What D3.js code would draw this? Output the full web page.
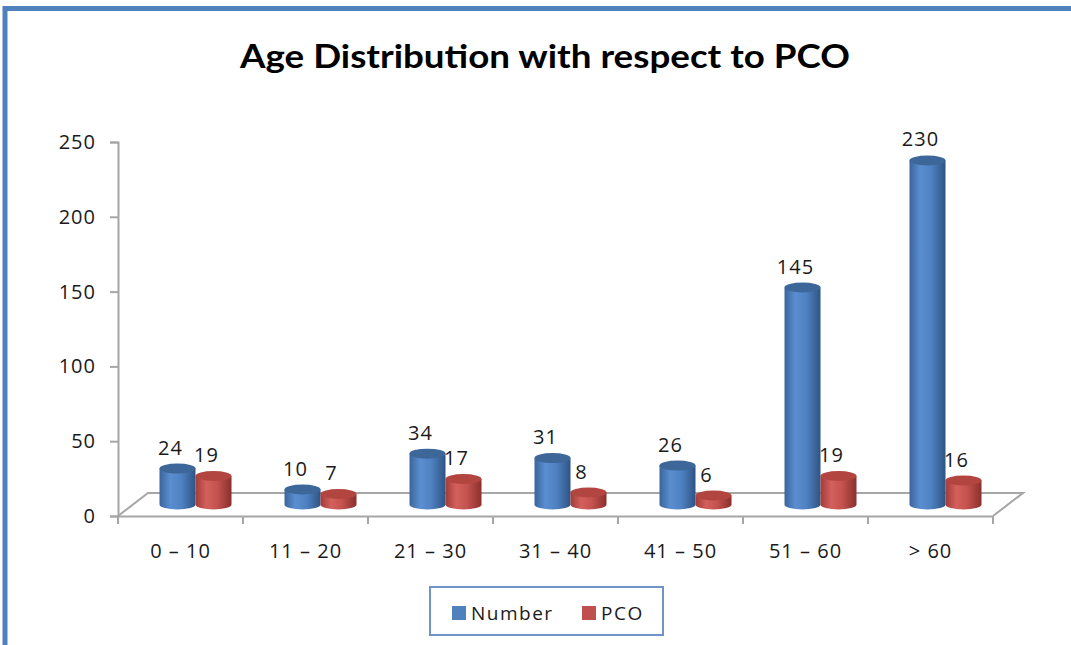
<!DOCTYPE html>
<html>
<head>
<meta charset="utf-8">
<script src="https://cdn.jsdelivr.net/npm/d3@7"></script>
<style>
  body { margin: 0; background: #fff; }
  text { font-family: "Open Sans", sans-serif; fill: #1a1a1a; }
</style>
</head>
<body>
<div id="chart"></div>
<script>
// chart data
var categories = ["0 – 10", "11 – 20", "21 – 30", "31 – 40", "41 – 50", "51 – 60", "> 60"];
var numberValues = [24, 10, 34, 31, 26, 145, 230];
var pcoValues = [19, 7, 17, 8, 6, 19, 16];
var seriesNames = ["Number", "PCO"];
var yTicks = [0, 50, 100, 150, 200, 250];

var W = 1071, H = 645;
var depthX = 30, depthY = -23;   // 3d floor offset

var svg = d3.select("#chart").append("svg")
    .attr("width", W)
    .attr("height", H);

// gradients for cylinders
var defs = svg.append("defs");
function grad(id, stops) {
    var g = defs.append("linearGradient").attr("id", id)
        .attr("x1", "0%").attr("x2", "100%").attr("y1", "0%").attr("y2", "0%");
    stops.forEach(function (s) {
        g.append("stop").attr("offset", s[0]).attr("stop-color", s[1]);
    });
}
grad("blueBody", [["0%", "#3a659b"], ["30%", "#5a8ed0"], ["60%", "#4f82c2"], ["100%", "#2f5485"]]);
grad("redBody", [["0%", "#a03c39"], ["30%", "#d4605c"], ["60%", "#c4524e"], ["100%", "#8a302d"]]);

// outer frame: only top and left edges are visible
svg.append("path")
    .attr("d", "M5," + H + " L5,8.5 L" + W + ",8.5")
    .attr("fill", "none")
    .attr("stroke", "#4f81bd")
    .attr("stroke-width", 5);

// title
svg.append("text")
    .attr("x", 545).attr("y", 68)
    .attr("text-anchor", "middle")
    .attr("textLength", 610)
    .attr("lengthAdjust", "spacingAndGlyphs")
    .style("font-family", "Lato, sans-serif")
    .style("font-weight", "bold")
    .style("font-size", "32px")
    .style("fill", "#000")
    .text("Age Distribution with respect to PCO");

var x = d3.scaleBand().domain(categories).range([118, 993]);
var y = d3.scaleLinear().domain([0, 250]).range([516, 142]);
// bars stand in the middle of the floor depth
var yBar = d3.scaleLinear().domain([0, 250]).range([516 + depthY / 2, 142 + depthY / 2]);

var axisColor = "#a6a6a6";

// floor
var x0 = x.range()[0], x1 = x.range()[1];
svg.append("path")
    .attr("d", "M" + x0 + "," + y(0) + " L" + (x0 + depthX) + "," + (y(0) + depthY) +
        " L" + (x1 + depthX) + "," + (y(0) + depthY) + " L" + x1 + "," + y(0))
    .attr("fill", "none")
    .attr("stroke", axisColor)
    .attr("stroke-width", 2);

// y axis
var yAxis = d3.axisLeft(y).tickValues(yTicks).tickSize(8).tickPadding(14);
var gy = svg.append("g")
    .attr("transform", "translate(" + x0 + ",0)")
    .call(yAxis);
gy.select(".domain").attr("stroke", axisColor).attr("stroke-width", 2);
gy.selectAll(".tick line").attr("stroke", axisColor).attr("stroke-width", 2);
gy.selectAll(".tick text")
    .style("font-size", "20px")
    .style("letter-spacing", "1px")
    .attr("fill", "#1a1a1a");

// x axis: line, ticks at category borders, labels at centers
var xAxis = d3.axisBottom(x).tickSize(0).tickPadding(28);
var gx = svg.append("g")
    .attr("transform", "translate(0," + y(0) + ")")
    .call(xAxis);
gx.select(".domain").attr("stroke", axisColor).attr("stroke-width", 2);
gx.selectAll(".tick text")
    .style("font-size", "20px")
    .style("letter-spacing", "1px")
    .attr("fill", "#1a1a1a");

var borders = categories.map(function (c) { return x(c); }).concat([x1]);
svg.append("g").selectAll("line")
    .data(borders)
    .enter()
    .append("line")
    .attr("x1", function (d) { return d; })
    .attr("x2", function (d) { return d; })
    .attr("y1", y(0))
    .attr("y2", y(0) + 8)
    .attr("stroke", axisColor)
    .attr("stroke-width", 2);

// cylinders
var barW = 36, ry = 5;
var series = [
    { name: "Number", values: numberValues, body: "url(#blueBody)", top: "#3d6699", offset: -18 },
    { name: "PCO", values: pcoValues, body: "url(#redBody)", top: "#b2453f", offset: 18 }
];

function cylinder(g, cx, v, s) {
    var l = cx - barW / 2, r = cx + barW / 2;
    var b = yBar(0), t = yBar(v);
    g.append("path")
        .attr("d", "M" + l + "," + t + " L" + l + "," + b +
            " A" + (barW / 2) + "," + ry + " 0 0 0 " + r + "," + b +
            " L" + r + "," + t + " Z")
        .attr("fill", s.body);
    g.append("ellipse")
        .attr("cx", cx).attr("cy", t)
        .attr("rx", barW / 2).attr("ry", ry)
        .attr("fill", s.top);
}

var bars = svg.append("g");
categories.forEach(function (c, i) {
    var center = x(c) + x.bandwidth() / 2 + depthX / 2;
    series.forEach(function (s) {
        cylinder(bars, center + s.offset, s.values[i], s);
    });
});

// data labels
var labels = svg.append("g");
categories.forEach(function (c, i) {
    var center = x(c) + x.bandwidth() / 2 + depthX / 2;
    series.forEach(function (s) {
        labels.append("text")
            .attr("x", center + s.offset - 7)
            .attr("y", yBar(s.values[i]) - ry - 9)
            .attr("text-anchor", "middle")
            .style("font-size", "20px")
            .style("letter-spacing", "1px")
            .text(s.values[i]);
    });
});

// legend
var legend = svg.append("g");
legend.append("rect")
    .attr("x", 430).attr("y", 587)
    .attr("width", 233).attr("height", 48)
    .attr("fill", "#fff")
    .attr("stroke", "#6f95c8")
    .attr("stroke-width", 2);
var legendItems = [
    { name: seriesNames[0], color: "#4f81bd", x: 452 },
    { name: seriesNames[1], color: "#c0504d", x: 582 }
];
legendItems.forEach(function (d) {
    legend.append("rect")
        .attr("x", d.x).attr("y", 606)
        .attr("width", 14).attr("height", 14)
        .attr("fill", d.color);
    legend.append("text")
        .attr("x", d.x + 19).attr("y", 620)
        .style("font-size", "19px")
        .style("letter-spacing", "1.5px")
        .text(d.name);
});
</script>
</body>
</html>
